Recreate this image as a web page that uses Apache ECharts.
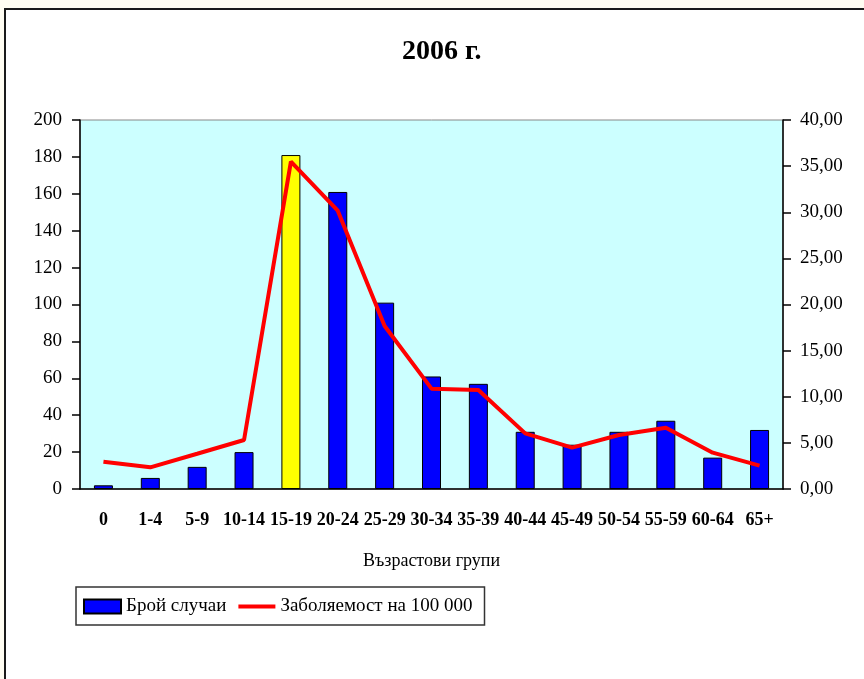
<!DOCTYPE html>
<html>
<head>
<meta charset="utf-8">
<script src="https://cdn.jsdelivr.net/npm/echarts@6/dist/echarts.min.js"></script>
<style>
  html, body { margin: 0; padding: 0; background: #fffdf2; }
  #chart { width: 864px; height: 679px; }
</style>
</head>
<body>
<div id="chart"></div>
<script>
// Age groups and per-group values
const ageGroups = ['0', '1-4', '5-9', '10-14', '15-19', '20-24', '25-29', '30-34', '35-39', '40-44', '45-49', '50-54', '55-59', '60-64', '65+'];
const caseCounts = [2, 6, 12, 20, 181, 161, 101, 61, 57, 31, 24, 31, 37, 17, 32];
const incidenceRates = [2.96, 2.35, 3.82, 5.31, 35.48, 30.17, 17.67, 10.88, 10.73, 6.03, 4.48, 5.85, 6.65, 3.94, 2.53];
const highlightGroup = '15-19';

const serif = '"Liberation Serif", "Times New Roman", serif';

const chart = echarts.init(document.getElementById('chart'), null, { renderer: 'canvas' });

chart.setOption({
  backgroundColor: '#fffdf2',
  animation: false,
  graphic: [{
    type: 'rect',
    z: -10,
    shape: { x: 5, y: 9, width: 900, height: 700 },
    style: { fill: '#ffffff', stroke: '#1a1a1a', lineWidth: 2 }
  }],
  title: {
    text: '2006 г.',
    left: 397,
    top: 33,
    textStyle: { fontFamily: serif, fontWeight: 'bold', fontSize: 28, color: '#000' }
  },
  legend: {
    left: 76,
    top: 587,
    orient: 'horizontal',
    backgroundColor: '#ffffff',
    borderColor: '#333',
    borderWidth: 1.5,
    padding: [10, 12, 9, 7],
    itemGap: 10,
    itemWidth: 37,
    itemHeight: 14,
    textStyle: { fontFamily: serif, fontSize: 19, color: '#000' },
    data: [
      { name: 'Брой случаи', icon: 'rect' },
      { name: 'Заболяемост на 100 000', itemStyle: { opacity: 0 }, lineStyle: { width: 4 } }
    ]
  },
  grid: {
    left: 80,
    right: 81,
    top: 120,
    height: 369,
    show: true,
    backgroundColor: '#ccffff',
    borderColor: '#888',
    borderWidth: 1
  },
  xAxis: {
    type: 'category',
    data: ageGroups,
    boundaryGap: true,
    name: 'Възрастови групи',
    nameLocation: 'middle',
    nameGap: 63,
    nameTextStyle: { fontFamily: serif, fontSize: 18, color: '#000' },
    axisLine: { lineStyle: { color: '#000', width: 1.5 } },
    axisTick: { alignWithLabel: false, length: 7, lineStyle: { color: '#000', width: 1.5 } },
    axisLabel: { fontFamily: serif, fontWeight: 'bold', fontSize: 18, color: '#000', margin: 22, interval: 0 }
  },
  yAxis: [{
    type: 'value',
    min: 0,
    max: 200,
    interval: 20,
    position: 'left',
    splitLine: { show: false },
    axisLine: { show: true, lineStyle: { color: '#000', width: 1.5 } },
    axisTick: { show: true, length: 8, lineStyle: { color: '#000', width: 1.5 } },
    axisLabel: { fontFamily: serif, fontSize: 19, color: '#000', margin: 18 }
  }, {
    type: 'value',
    min: 0,
    max: 40,
    interval: 5,
    position: 'right',
    splitLine: { show: false },
    axisLine: { show: true, lineStyle: { color: '#000', width: 1.5 } },
    axisTick: { show: true, length: 8, lineStyle: { color: '#000', width: 1.5 } },
    axisLabel: {
      fontFamily: serif, fontSize: 19, color: '#000', margin: 17,
      formatter: v => v.toFixed(2).replace('.', ',')
    }
  }],
  series: [{
    name: 'Брой случаи',
    type: 'bar',
    yAxisIndex: 0,
    barWidth: 19,
    itemStyle: { color: '#0000ff', borderColor: '#000', borderWidth: 1 },
    data: caseCounts.map((v, i) => ageGroups[i] === highlightGroup
      ? { value: v, itemStyle: { color: '#ffff00' } }
      : v)
  }, {
    name: 'Заболяемост на 100 000',
    type: 'line',
    yAxisIndex: 1,
    symbol: 'none',
    lineStyle: { color: '#ff0000', width: 4 },
    itemStyle: { color: '#ff0000' },
    data: incidenceRates
  }]
});
</script>
</body>
</html>
